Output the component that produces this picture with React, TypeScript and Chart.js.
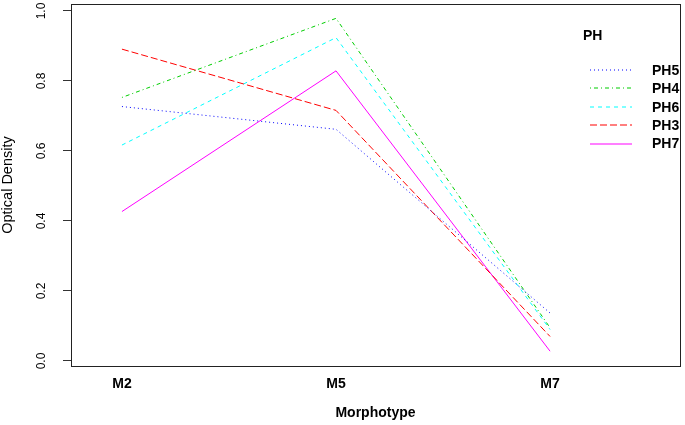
import React, { useEffect, useRef } from "react";
import { Chart, registerables } from "chart.js";

Chart.register(...registerables);

const categories = ["M2", "M5", "M7"];
const seriesNames = ["PH5", "PH4", "PH6", "PH3", "PH7"];
const ph5 = [0.727, 0.662, 0.137];
const ph4 = [0.753, 0.979, 0.095];
const ph6 = [0.617, 0.924, 0.09];
const ph3 = [0.891, 0.716, 0.07];
const ph7 = [0.427, 0.829, 0.028];
const yTicks = [0, 0.2, 0.4, 0.6, 0.8, 1.0];
const yTickLabels = ["0.0", "0.2", "0.4", "0.6", "0.8", "1.0"];

const colors = ["#0000FF", "#00CD00", "#00FFFF", "#FF0000", "#FF00FF"];
const dashes: number[][] = [[1, 3], [1, 3, 4, 3], [4, 4], [7, 3], []];
const FONT = '"Liberation Sans", Arial, sans-serif';

export default function App() {
  const ref = useRef<HTMLCanvasElement | null>(null);
  useEffect(() => {
    document.body.style.margin = "0";
    const canvas = ref.current!;
    const values = [ph5, ph4, ph6, ph3, ph7];
    const datasets = seriesNames.map((name, i) => ({
      label: name,
      data: values[i].map((v, j) => ({ x: j, y: v })),
      borderColor: colors[i],
      backgroundColor: colors[i],
      borderDash: dashes[i],
      borderWidth: 1,
      pointRadius: 0,
      tension: 0,
      fill: false,
    }));

    const overlay = {
      id: "overlay",
      afterDraw(chart: any) {
        const ctx = chart.ctx as CanvasRenderingContext2D;
        const a = chart.chartArea;
        const xs = chart.scales.x;
        const ys = chart.scales.y;
        ctx.save();
        // box
        ctx.strokeStyle = "#222";
        ctx.lineWidth = 1;
        ctx.setLineDash([]);
        ctx.strokeRect(Math.round(a.left) + 0.5, Math.round(a.top) + 0.5, Math.round(a.right - a.left), Math.round(a.bottom - a.top));
        ctx.fillStyle = "#000";
        // x labels
        ctx.font = "bold 14px " + FONT;
        ctx.textAlign = "center";
        ctx.textBaseline = "middle";
        categories.forEach((c, i) => {
          ctx.fillText(c, xs.getPixelForValue(i), 384);
        });
        ctx.fillText("Morphotype", (a.left + a.right) / 2, 413);
        // y tick labels rotated
        ctx.font = "12px " + FONT;
        yTicks.forEach((v, i) => {
          ctx.save();
          ctx.translate(42, ys.getPixelForValue(v));
          ctx.rotate(-Math.PI / 2);
          ctx.fillText(yTickLabels[i], 0, 0);
          ctx.restore();
        });
        // y title
        ctx.save();
        ctx.font = "14.5px " + FONT;
        ctx.translate(8, (a.top + a.bottom) / 2);
        ctx.rotate(-Math.PI / 2);
        ctx.fillText("Optical Density", 0, 0);
        ctx.restore();
        // legend
        ctx.font = "bold 14px " + FONT;
        ctx.textAlign = "left";
        ctx.fillText("PH", 583, 36);
        seriesNames.forEach((n, i) => {
          const y = 70 + i * 18.4;
          ctx.strokeStyle = colors[i];
          ctx.lineWidth = 1.2;
          ctx.setLineDash(dashes[i]);
          ctx.beginPath();
          ctx.moveTo(590, Math.round(y));
          ctx.lineTo(632, Math.round(y));
          ctx.stroke();
          ctx.fillStyle = "#000";
          ctx.fillText(n, 652, y + 1);
        });
        ctx.restore();
      },
    };

    const chart = new Chart(canvas, {
      type: "line",
      data: { datasets },
      options: {
        animation: false,
        responsive: false,
        devicePixelRatio: 1,
        layout: { padding: { top: 4, right: 5, left: 0, bottom: 0 } },
        plugins: { legend: { display: false }, tooltip: { enabled: false } },
        scales: {
          x: {
            type: "linear",
            min: -0.238,
            max: 2.607,
            grid: { display: false },
            border: { display: false },
            ticks: { display: false },
            afterFit: (s: any) => {
              s.height = 59;
            },
          },
          y: {
            type: "linear",
            min: -0.0143,
            max: 1.02,
            grid: { drawOnChartArea: false, drawTicks: true, tickLength: 8, color: "#333" },
            border: { display: false },
            ticks: { display: false },
            afterBuildTicks: (s: any) => {
              s.ticks = yTicks.map((v) => ({ value: v }));
            },
            afterFit: (s: any) => {
              s.width = 71;
            },
          },
        },
      },
      plugins: [overlay],
    } as any);
    return () => chart.destroy();
  }, []);
  return <canvas ref={ref} width={685} height={425} style={{ display: "block" }} />;
}
